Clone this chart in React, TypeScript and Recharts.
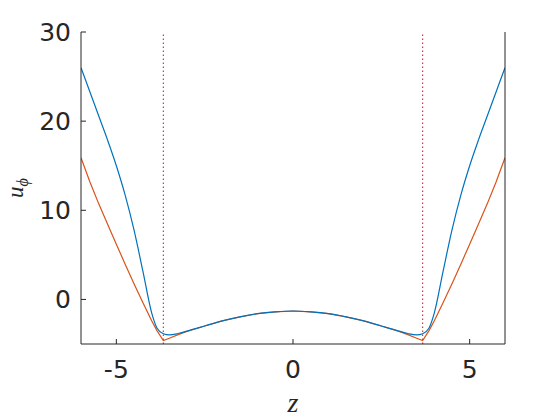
import React from 'react';
import { LineChart, Line, XAxis, YAxis, ReferenceLine } from 'recharts';

const zValues = [
    -6, -5.75, -5.5, -5.25, -5, -4.75, -4.5, -4.25, -4, -3.85, -3.67, -3.5, -3.25, -3, -2.5, -2, -1.5, -1, -0.5, 0,
    0.5, 1, 1.5, 2, 2.5, 3, 3.25, 3.5, 3.67, 3.85, 4, 4.25, 4.5, 4.75, 5, 5.25, 5.5, 5.75, 6,
];

const blueValues = [
    26.0, 23.3, 20.6, 17.9, 15.0, 11.7, 7.8, 3.2, -1.5, -3.2, -3.85, -3.98, -3.82, -3.55, -2.98, -2.4, -1.95, -1.6, -1.4, -1.3,
    -1.4, -1.6, -1.95, -2.4, -2.98, -3.55, -3.82, -3.98, -3.85, -3.2, -1.5, 3.2, 7.8, 11.7, 15.0, 17.9, 20.6, 23.3, 26.0,
];

const orangeValues = [
    15.9, 13.2, 10.75, 8.45, 6.2, 3.95, 1.75, -0.35, -2.4, -3.5, -4.62, -4.35, -3.95, -3.58, -2.98, -2.4, -1.95, -1.6, -1.4, -1.3,
    -1.4, -1.6, -1.95, -2.4, -2.98, -3.58, -3.95, -4.35, -4.62, -3.5, -2.4, -0.35, 1.75, 3.95, 6.2, 8.45, 10.75, 13.2, 15.9,
];

const kinkZ = [-3.67, 3.67];
const xTicks = [-5, 0, 5];
const yTicks = [0, 10, 20, 30];

const data = zValues.map((z, i) => ({ z, blue: blueValues[i], orange: orangeValues[i] }));

const axisColor = '#262626';
const tickFont = { fontFamily: 'DejaVu Sans', fontSize: 25, fill: axisColor };

function YLabel({ viewBox }: any) {
    const cy = viewBox.y + viewBox.height / 2;
    const x = 23;
    return (
        <text
            x={x}
            y={cy}
            transform={`rotate(-90, ${x}, ${cy})`}
            textAnchor="middle"
            fontFamily="Liberation Serif"
            fontStyle="italic"
            fontSize={23}
            fill={axisColor}>
            u<tspan fontSize={16} dy={5}>ϕ</tspan>
        </text>
    );
}

export default function App() {
    return (
        <div style={{ position: 'fixed', left: 0, top: 0, width: 560, height: 420, background: '#fff' }}>
            <LineChart width={560} height={420} data={data} margin={{ top: 32, right: 0, bottom: 0, left: 0 }}>
                <XAxis
                    dataKey="z"
                    type="number"
                    domain={[-6, 6]}
                    ticks={xTicks}
                    allowDataOverflow
                    height={76}
                    stroke={axisColor}
                    tickSize={-5}
                    tickMargin={21}
                    tick={tickFont}
                    label={{ value: 'z', position: 'insideBottom', offset: 8, fontFamily: 'Liberation Serif', fontStyle: 'italic', fontSize: 28, fill: axisColor }}
                />
                <XAxis
                    xAxisId="top"
                    dataKey="z"
                    type="number"
                    orientation="top"
                    domain={[-6, 6]}
                    ticks={xTicks}
                    height={0}
                    stroke={axisColor}
                    tickSize={-5}
                    tickFormatter={() => ''}
                />
                <YAxis
                    type="number"
                    domain={[-5, 30]}
                    ticks={yTicks}
                    allowDataOverflow
                    width={81}
                    stroke={axisColor}
                    tickSize={-5}
                    tickMargin={15}
                    tick={tickFont}
                    label={<YLabel />}
                />
                <YAxis
                    yAxisId="right"
                    orientation="right"
                    type="number"
                    domain={[-5, 30]}
                    ticks={yTicks}
                    width={55}
                    stroke={axisColor}
                    tickSize={-5}
                    tickFormatter={() => ''}
                />
                {kinkZ.map(k => (
                    <ReferenceLine key={k} x={k} stroke="#c8141c" strokeWidth={1} strokeDasharray="1.5 2.5" />
                ))}
                <Line dataKey="orange" type="linear" stroke="#D95319" strokeWidth={1.2} dot={false} isAnimationActive={false} />
                <Line dataKey="blue" type="monotone" stroke="#0072BD" strokeWidth={1.2} dot={false} isAnimationActive={false} />
            </LineChart>
        </div>
    );
}
